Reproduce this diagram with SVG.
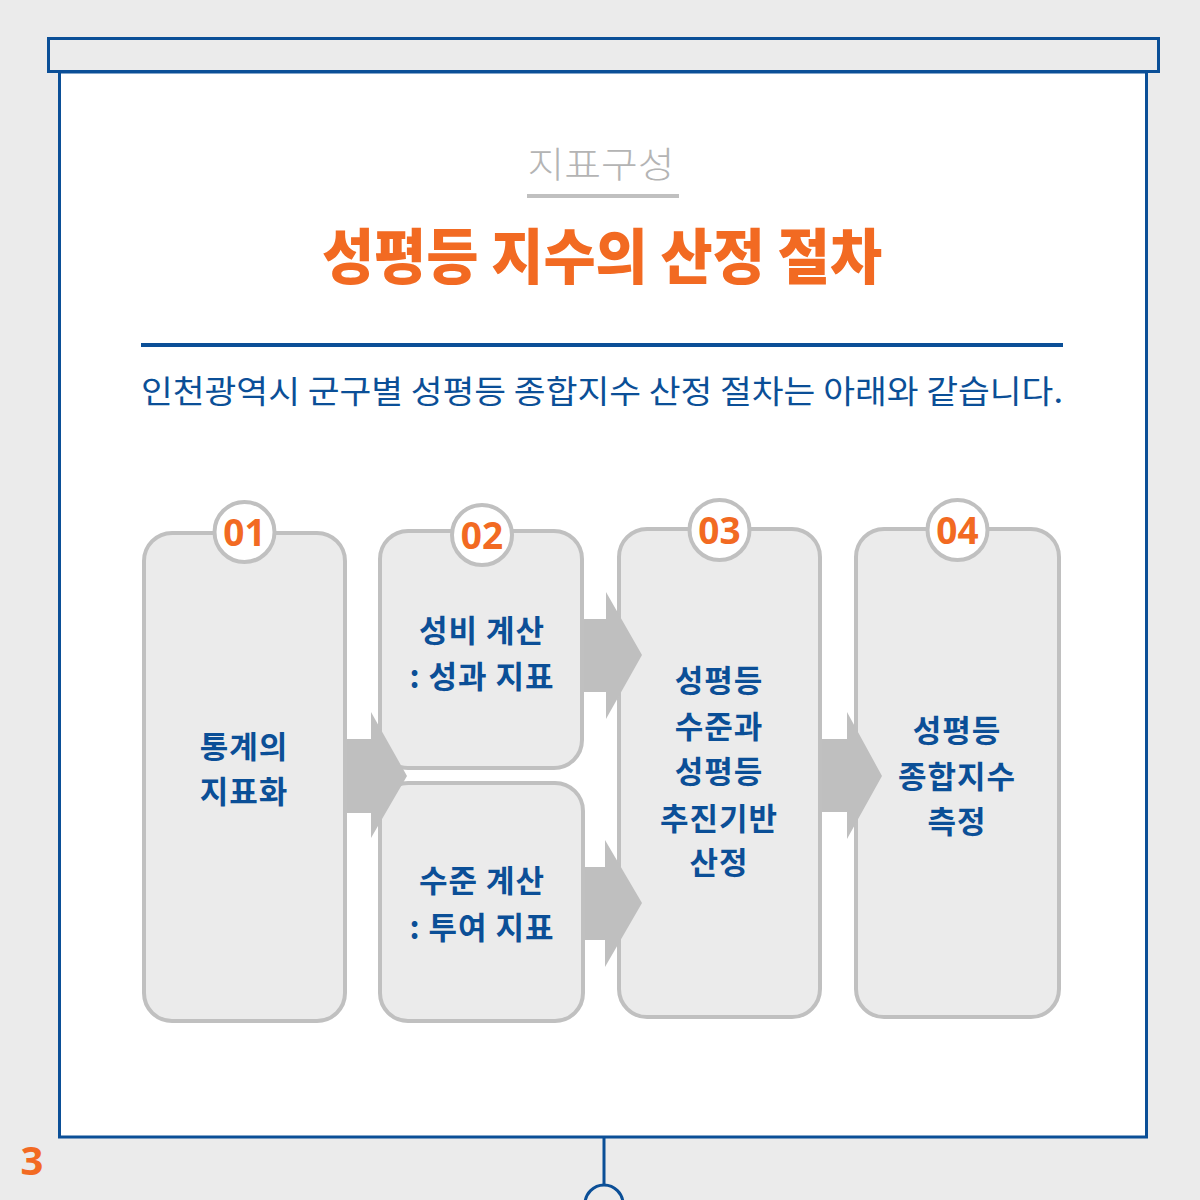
<svg xmlns="http://www.w3.org/2000/svg" width="1200" height="1200" viewBox="0 0 1200 1200">
<defs>
<style>
.box{fill:#EBEBEB;stroke:#C0C0C0;stroke-width:4}
.badge{fill:#FFFFFF;stroke:#C0C0C0;stroke-width:4}
.num{font-family:"Noto Sans","Noto Sans CJK KR",sans-serif;font-weight:700;font-size:37px;fill:#F26A22;text-anchor:middle}
.lbl{font-family:"Noto Sans CJK KR","Noto Sans",sans-serif;font-weight:700;font-size:31px;letter-spacing:1px;fill:#0B4F97;text-anchor:middle}
.arrow{fill:#BFBFBF}
.blue{stroke:#0B4F97;stroke-width:3}
</style>
</defs>
<rect width="1200" height="1200" fill="#EBEBEB"/>
<g id="frame">
<rect x="59.5" y="72" width="1087" height="1065" fill="#FFFFFF" class="blue"/>
<rect x="48.5" y="38.5" width="1110" height="33" fill="#EBEBEB" class="blue"/>
<line x1="604" y1="1137" x2="604" y2="1186" class="blue"/>
<circle cx="604" cy="1204" r="19" fill="none" class="blue"/>
</g>
<g id="header">
<text x="601" y="178" font-family="Noto Sans CJK KR, sans-serif" font-weight="300" font-size="36" fill="#B4B4B4" text-anchor="middle" textLength="147" lengthAdjust="spacingAndGlyphs">지표구성</text>
<rect x="527" y="194" width="152" height="4" fill="#C0C0C0"/>
<text x="602" y="279" font-family="Noto Sans CJK KR, sans-serif" font-weight="900" font-size="60" fill="#F26A22" text-anchor="middle" textLength="560" lengthAdjust="spacingAndGlyphs">성평등 지수의 산정 절차</text>
<rect x="141" y="343" width="922" height="4" fill="#0B4F97"/>
<text x="602" y="403" font-family="Noto Sans CJK KR, sans-serif" font-weight="400" font-size="32" fill="#0B4F97" text-anchor="middle" textLength="922" lengthAdjust="spacingAndGlyphs">인천광역시 군구별 성평등 종합지수 산정 절차는 아래와 같습니다.</text>
</g>
<g id="node1">
<rect class="box" x="144" y="533" width="201" height="488" rx="28"/>
<circle class="badge" cx="244.5" cy="532" r="30"/>
<text class="num" x="244.5" y="546">01</text>
<text class="lbl" x="244" y="758">통계의</text>
<text class="lbl" x="244" y="803">지표화</text>
</g>
<g id="node2a">
<rect class="box" x="380" y="531" width="202" height="237" rx="28"/>
<circle class="badge" cx="482" cy="535" r="30"/>
<text class="num" x="482" y="549">02</text>
<text class="lbl" x="482" y="642">성비 계산</text>
<text class="lbl" x="482" y="688">: 성과 지표</text>
</g>
<g id="node2b">
<rect class="box" x="380" y="783" width="203" height="238" rx="28"/>
<text class="lbl" x="482" y="892">수준 계산</text>
<text class="lbl" x="482" y="939">: 투여 지표</text>
</g>
<g id="node3">
<rect class="box" x="619" y="529" width="201" height="488" rx="28"/>
<circle class="badge" cx="719.5" cy="530" r="30"/>
<text class="num" x="719.5" y="544">03</text>
<text class="lbl" x="719" y="692">성평등</text>
<text class="lbl" x="719" y="738">수준과</text>
<text class="lbl" x="719" y="783">성평등</text>
<text class="lbl" x="719" y="830">추진기반</text>
<text class="lbl" x="719" y="874">산정</text>
</g>
<g id="node4">
<rect class="box" x="856" y="529" width="203" height="488" rx="28"/>
<circle class="badge" cx="957.5" cy="530" r="30"/>
<text class="num" x="957.5" y="544">04</text>
<text class="lbl" x="957" y="742">성평등</text>
<text class="lbl" x="957" y="788">종합지수</text>
<text class="lbl" x="957" y="833">측정</text>
</g>
<g id="connectors">
<polygon class="arrow" points="347,739 371,739 371,712 407,776 371,838 371,813 347,813"/>
<polygon class="arrow" points="584,619 606,619 606,592 642,655 606,719 606,692 584,692"/>
<polygon class="arrow" points="585,867 605,867 605,840 642,903 605,967 605,940 585,940"/>
<polygon class="arrow" points="822,739 847,739 847,712 882,776 847,839 847,812 822,812"/>
</g>
<text x="32" y="1175" font-family="Noto Sans, sans-serif" font-weight="700" font-size="40" fill="#F26A22" text-anchor="middle">3</text>
</svg>
